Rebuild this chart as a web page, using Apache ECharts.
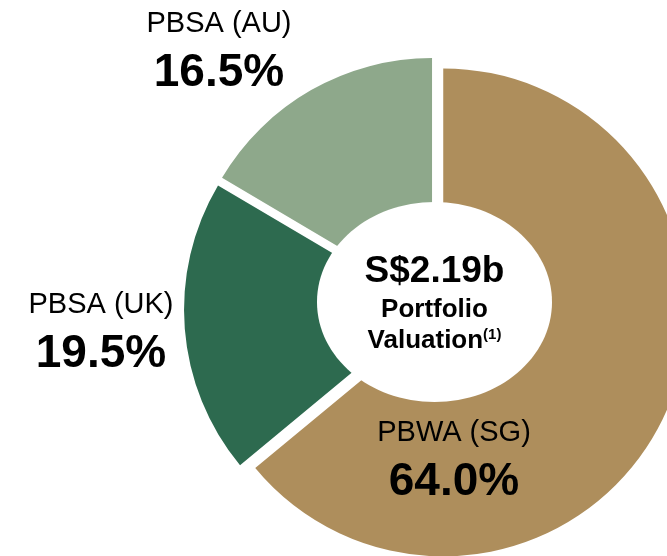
<!DOCTYPE html>
<html>
<head>
    <meta charset="utf-8">
    <title>Portfolio Valuation</title>
    <script src="https://cdn.jsdelivr.net/npm/echarts@6/dist/echarts.min.js"></script>
    <style>
        html, body { margin: 0; padding: 0; background: #fff; }
    </style>
</head>
<body>
    <div id="main" style="width: 667px;height:556px;"></div>
    <script type="text/javascript">
        // slice data, clockwise from 12 o'clock
        var segments = ['PBWA (SG)', 'PBSA (UK)', 'PBSA (AU)'];
        var shares = [64.0, 19.5, 16.5];
        var colours = ['#ae8e5c', '#2d6a4f', '#8ea88b'];

        // centre text
        var totalText = 'S$2.19b';
        var subText = ['Portfolio', 'Valuation'];
        var noteMark = '(1)';

        // where each slice's label block sits (centre of the block)
        var labelSpots = [[454, 458], [101, 330], [219, 49]];

        var font = '"Liberation Sans", Arial, sans-serif';
        var myChart = echarts.init(document.getElementById('main'));

        var pieData = segments.map(function (name, i) {
            return {
                name: name,
                value: shares[i],
                selected: true,
                itemStyle: { color: colours[i] }
            };
        });

        // slice labels: name over bold share
        var sliceLabels = segments.map(function (name, i) {
            return {
                type: 'text',
                x: labelSpots[i][0], y: labelSpots[i][1], z: 102,
                style: {
                    text: '{n|' + name + '}\n{v|' + shares[i].toFixed(1) + '%}',
                    textAlign: 'center', textVerticalAlign: 'middle',
                    rich: {
                        n: { font: '29px ' + font, fill: '#000', lineHeight: 48, align: 'center' },
                        v: { font: 'bold 46px ' + font, fill: '#000', lineHeight: 50, align: 'center' }
                    }
                }
            };
        });

        var option = {
            animation: false,
            series: [{
                type: 'pie',
                center: [436, 309],
                radius: [60, 244],
                startAngle: 90,
                clockwise: true,
                selectedMode: 'multiple',
                selectedOffset: 8,
                itemStyle: { borderWidth: 0 },
                emphasis: { scale: false },
                select: { itemStyle: { borderWidth: 0 } },
                label: { show: false },
                labelLine: { show: false },
                data: pieData
            }],
            graphic: [{
                type: 'ellipse',
                shape: { cx: 434.5, cy: 302, rx: 117.5, ry: 100 },
                style: { fill: '#fff' },
                z: 100
            }, {
                type: 'text',
                x: 434.5, y: 272, z: 101,
                style: {
                    text: totalText, fill: '#000', font: 'bold 37px ' + font,
                    textAlign: 'center', textVerticalAlign: 'middle'
                }
            }, {
                type: 'text',
                x: 434.5, y: 310, z: 101,
                style: {
                    text: subText[0], fill: '#000', font: 'bold 26px ' + font,
                    textAlign: 'center', textVerticalAlign: 'middle'
                }
            }, {
                type: 'text',
                x: 434.5, y: 341, z: 101,
                style: {
                    text: '{a|' + subText[1] + '}{b|' + noteMark + '}',
                    fill: '#000',
                    textAlign: 'center', textVerticalAlign: 'middle',
                    rich: {
                        a: { font: 'bold 26px ' + font, fill: '#000' },
                        b: { font: 'bold 15px ' + font, fill: '#000', verticalAlign: 'top', padding: [0, 0, 12, 0] }
                    }
                }
            }].concat(sliceLabels)
        };

        myChart.setOption(option);
    </script>
</body>
</html>
